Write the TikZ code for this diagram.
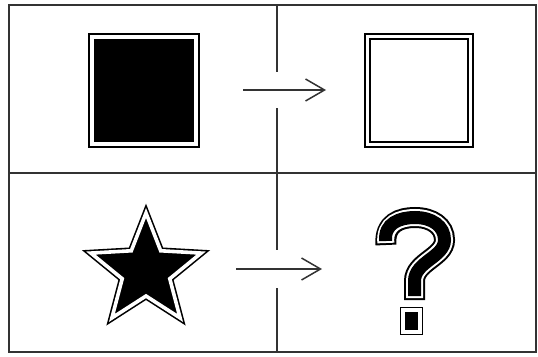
\documentclass[tikz,border=0pt]{standalone}
\usetikzlibrary{arrows.meta}
\definecolor{frame}{HTML}{333333}
\tikzset{
  framel/.style={draw=frame, line width=1.8pt},
  arr/.style={draw=frame, line width=1.5pt, -{Straight Barb[length=19pt,width=22pt,line width=1.5pt]}},
  dblbox/.style={draw=black, line width=1.6pt, double=white, double distance=3.6pt, inner sep=0pt, outer sep=0pt},
}
\begin{document}
\begin{tikzpicture}[x=1pt,y=-1pt]
\useasboundingbox (0,0) rectangle (538,356);
% frame
\draw[framel] (9,5) rectangle (536,352);
\draw[framel] (9,173) -- (536,173);
\draw[framel] (277,5) -- (277,72);
\draw[framel] (277,108) -- (277,250);
\draw[framel] (277,288) -- (277,352);
% black square
\node[dblbox, fill=black, minimum width=104.5pt, minimum height=107.5pt] (bsq) at (144,90.5) {};
% hollow square
\node[dblbox, fill=white, minimum width=103pt, minimum height=108pt] (wsq) at (419,90.5) {};
% star
\coordinate (starc) at (146,271);
\draw[draw=black, line width=1.6pt, double=white, double distance=3.6pt, fill=black, shift={(starc)}]
  (90:-58) -- (126:-25) -- (162:-58) -- (198:-25) -- (234:-58) -- (270:-25) -- (306:-58) -- (342:-25) -- (18:-58) -- (54:-25) -- cycle;
% question mark
\def\qpath{(386,245) .. controls (384,223) and (400,217.5) .. (415,217.5) .. controls (432,217.5) and (444.5,226) .. (444.5,240) .. controls (444.5,257) and (414.5,262) .. (414.5,281) -- (414.5,300)}
\draw[black, line width=21pt] \qpath;
\draw[white, line width=17pt, shorten <=2pt, shorten >=2pt] \qpath;
\draw[black, line width=13pt, shorten <=4pt, shorten >=4pt] \qpath;
\node[dblbox, fill=black, minimum width=17pt, minimum height=22pt] (qdot) at (411.5,321) {};
% arrows
\coordinate (a1s) at (243,90);
\coordinate (a1e) at (326,90);
\coordinate (a2s) at (236,269);
\coordinate (a2e) at (322,269);
\draw[arr] (a1s) -- (a1e);
\draw[arr] (a2s) -- (a2e);
\end{tikzpicture}
\end{document}
